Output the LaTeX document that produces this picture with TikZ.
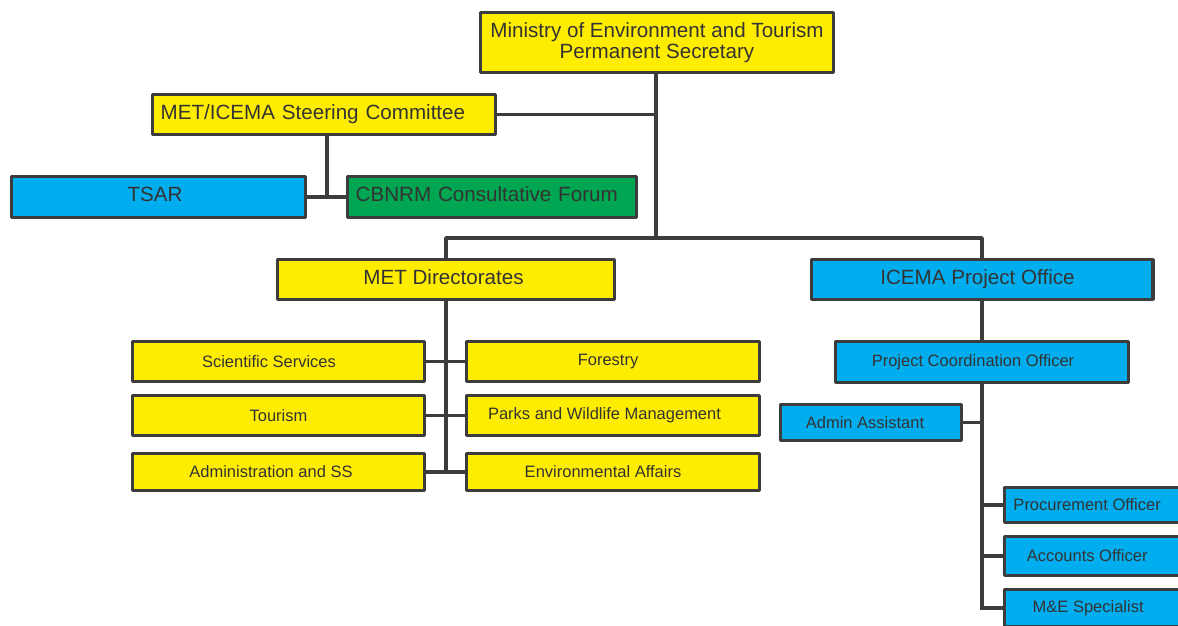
\documentclass[tikz,border=0pt]{standalone}
\usepackage{fontspec}
\setmainfont{Liberation Sans}
\definecolor{metyellow}{RGB}{255,237,0}
\definecolor{icemablue}{RGB}{0,174,239}
\definecolor{forumgreen}{RGB}{0,166,81}
\definecolor{edge}{RGB}{60,60,60}
\definecolor{ink}{RGB}{51,51,51}
\begin{document}
\begin{tikzpicture}[x=1pt, y=-1pt, line join=round, line cap=rect,
    box/.style={draw=edge, line width=3.3pt, inner sep=0pt, text=ink},
    big/.style={font=\fontsize{20.6}{21}\selectfont},
    lift/.style={text height=15pt, text depth=6pt},
    small/.style={font=\fontsize{16.5}{18}\selectfont},
    nudge/.style={execute at end node=\hspace*{#1}},
    ybox/.style={box, fill=metyellow},
    bbox/.style={box, fill=icemablue},
    gbox/.style={box, fill=forumgreen},
    link/.style={draw=edge, line width=3.5pt}]
    \path[use as bounding box, fill=white] (0,0) rectangle (1178,625);
    \clip (0,0) rectangle (1178,625);
    % top of the chart
    \node[ybox, big, minimum width=352.7pt, minimum height=59.7pt, align=center] (min) at (657,42.5) {Ministry of Environment and Tourism\\Permanent Secretary};
    \node[ybox, big, lift, text width=326.7pt, inner xsep=8pt, minimum height=39.7pt, align=left] (steer) at (324,114.5) {MET/ICEMA Steering Committee};
    \node[bbox, big, lift, nudge=7pt, minimum width=293.7pt, minimum height=40.7pt] (tsar) at (158.5,197) {TSAR};
    \node[gbox, big, lift, text width=272.7pt, inner xsep=8pt, minimum height=40.7pt, align=left] (cbnrm) at (492,197) {CBNRM Consultative Forum};
    \node[ybox, big, lift, nudge=5pt, minimum width=336.7pt, minimum height=39.7pt] (metd) at (446,279.5) {MET Directorates};
    \node[bbox, big, lift, nudge=9pt, minimum width=341.7pt, minimum height=39.7pt] (icema) at (982,279.5) {ICEMA Project Office};
    % directorates
    \node[ybox, small, nudge=19pt, minimum width=291.7pt, minimum height=39.7pt] (sci) at (278.5,361.5) {Scientific Services};
    \node[ybox, small, minimum width=291.7pt, minimum height=39.7pt] (tour) at (278.5,415.5) {Tourism};
    \node[ybox, small, nudge=15pt, minimum width=291.7pt, minimum height=36.7pt] (adm) at (278.5,472) {Administration and SS};
    \node[ybox, small, nudge=10pt, minimum width=292.7pt, minimum height=39.7pt] (forest) at (613,361.5) {Forestry};
    \node[ybox, small, nudge=17pt, minimum width=292.7pt, minimum height=39.7pt] (parks) at (613,415.5) {Parks and Wildlife Management};
    \node[ybox, small, nudge=20pt, minimum width=292.7pt, minimum height=36.7pt] (env) at (613,472) {Environmental Affairs};
    % project office
    \node[bbox, small, nudge=18pt, minimum width=292.7pt, minimum height=40.7pt] (pco) at (982,362) {Project Coordination Officer};
    \node[bbox, small, nudge=12pt, minimum width=180.7pt, minimum height=35.7pt] (aa) at (871,422.5) {Admin Assistant};
    \node[bbox, small, nudge=75pt, minimum width=240pt, minimum height=34.7pt] (proc) at (1124.65,505) {Procurement Officer};
    \node[bbox, small, nudge=75pt, minimum width=240pt, minimum height=38.7pt] (acc) at (1124.65,556) {Accounts Officer};
    \node[bbox, small, nudge=73pt, minimum width=240pt, minimum height=36.7pt] (me) at (1124.65,608) {M\&E Specialist};
    % connectors
    \coordinate (hub) at (656,238);
    \coordinate (fork) at (327,197);
    \draw[link] (min.south -| hub) -- (hub);
    \draw[link] (steer.east) -- (steer.east -| hub);
    \draw[link] (metd.north) -- (metd.north |- hub) -| (icema.north);
    \draw[link] (tsar.east) -- (cbnrm.west);
    \draw[link] (steer.south -| fork) -- (fork);
    \draw[link] (metd.south) -- (metd.south |- adm.east);
    \foreach \l/\r in {sci/forest, tour/parks, adm/env}\draw[link] (\l.east) -- (\r.west);
    \draw[link] (icema.south) -- (pco.north);
    \draw[link] (pco.south) -- (pco.south |- me.west);
    \draw[link] (aa.east) -- (aa.east -| pco.south);
    \foreach \n in {proc,acc,me}\draw[link] (\n.west) -- (\n.west -| pco.south);
\end{tikzpicture}
\end{document}
